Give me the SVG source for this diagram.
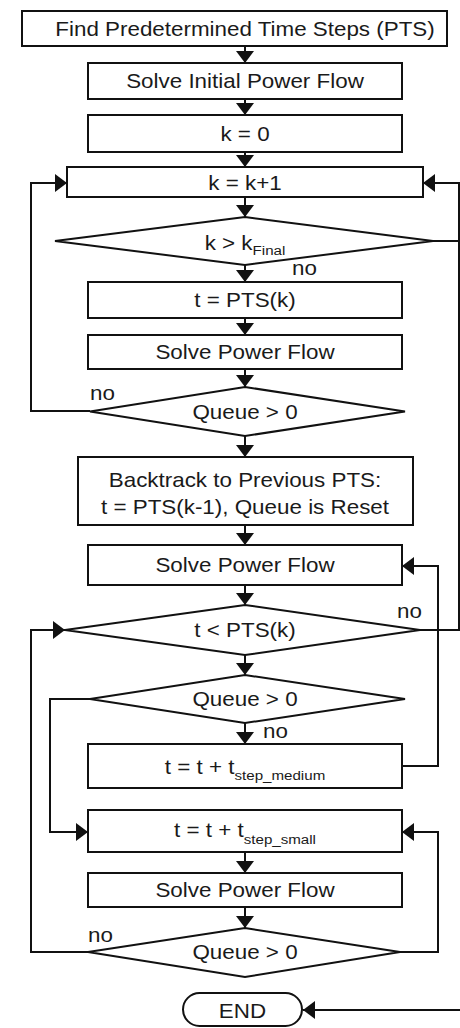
<svg xmlns="http://www.w3.org/2000/svg" width="460" height="1028" viewBox="0 0 460 1028">
  <style>
    .box { fill: #ffffff; stroke: #111111; stroke-width: 2; }
    .wire { fill: none; stroke: #111111; stroke-width: 2; }
    .lbl { font-family: "Liberation Sans", Arial, sans-serif; font-size: 20px; fill: #1a1a1a; text-anchor: middle; }
    .note { font-family: "Liberation Sans", Arial, sans-serif; font-size: 20px; fill: #1a1a1a; text-anchor: start; }
    .sub { font-size: 13.5px; }
  </style>
  <defs>
    <marker id="arrow" markerUnits="userSpaceOnUse" markerWidth="12" markerHeight="18" refX="12" refY="9" orient="auto">
      <path d="M0,0 L12,9 L0,18 Z" fill="#111111"/>
    </marker>
  </defs>
  <rect width="460" height="1028" fill="#ffffff"/>

  <!-- connectors -->
  <g id="connectors" class="wire">
    <line x1="245" y1="46" x2="245" y2="63" marker-end="url(#arrow)"/>
    <line x1="245" y1="99" x2="245" y2="115" marker-end="url(#arrow)"/>
    <line x1="245" y1="152" x2="245" y2="167" marker-end="url(#arrow)"/>
    <line x1="245" y1="197" x2="245" y2="217" marker-end="url(#arrow)"/>
    <line x1="245" y1="265" x2="245" y2="282" marker-end="url(#arrow)"/>
    <line x1="245" y1="318" x2="245" y2="335" marker-end="url(#arrow)"/>
    <line x1="245" y1="369" x2="245" y2="387" marker-end="url(#arrow)"/>
    <line x1="245" y1="436" x2="245" y2="457" marker-end="url(#arrow)"/>
    <line x1="245" y1="525" x2="245" y2="545" marker-end="url(#arrow)"/>
    <line x1="245" y1="585" x2="245" y2="605" marker-end="url(#arrow)"/>
    <line x1="245" y1="655" x2="245" y2="675" marker-end="url(#arrow)"/>
    <line x1="245" y1="723" x2="245" y2="744" marker-end="url(#arrow)"/>
    <line x1="245" y1="852" x2="245" y2="873" marker-end="url(#arrow)"/>
    <line x1="245" y1="907" x2="245" y2="928" marker-end="url(#arrow)"/>
    <!-- k > kFinal / t < PTS(k) back to k = k+1 -->
    <polyline points="420,630 459,630 459,183 423,183" marker-end="url(#arrow)"/>
    <line x1="433" y1="241" x2="459" y2="241"/>
    <!-- Queue > 0 (no) back to k = k+1 -->
    <polyline points="90,411 31,411 31,183 67,183" marker-end="url(#arrow)"/>
    <!-- medium step back to Solve Power Flow -->
    <polyline points="402,766 438,766 438,566 402,566" marker-end="url(#arrow)"/>
    <!-- Queue > 0 to small step -->
    <polyline points="90,699 50,699 50,832 88,832" marker-end="url(#arrow)"/>
    <!-- last Queue > 0 (yes) back to small step -->
    <polyline points="400,952 438,952 438,832 402,832" marker-end="url(#arrow)"/>
    <!-- last Queue > 0 (no) back to t < PTS(k) -->
    <polyline points="88,952 31,952 31,630 65,630" marker-end="url(#arrow)"/>
    <!-- exit into END -->
    <line x1="462" y1="1010" x2="303" y2="1010" marker-end="url(#arrow)"/>
  </g>

  <g id="find-pts">
    <rect class="box" x="22" y="11" width="425" height="35"/>
    <text class="lbl" transform="translate(245 35.5) scale(1.12 1)">Find Predetermined Time Steps (PTS)</text>
  </g>
  <g id="solve-initial">
    <rect class="box" x="88" y="63" width="314" height="36"/>
    <text class="lbl" transform="translate(245 88) scale(1.12 1)">Solve Initial Power Flow</text>
  </g>
  <g id="k-zero">
    <rect class="box" x="88" y="115" width="314" height="37"/>
    <text class="lbl" transform="translate(245 141) scale(1.12 1)">k = 0</text>
  </g>
  <g id="k-inc">
    <rect class="box" x="67" y="167" width="356" height="30"/>
    <text class="lbl" transform="translate(245 190) scale(1.12 1)">k = k+1</text>
  </g>
  <g id="k-check">
    <polygon class="box" points="245,217 433,241 245,265 55,241"/>
    <text class="lbl" transform="translate(245 250) scale(1.12 1)">k &gt; k<tspan class="sub" dy="5">Final</tspan></text>
    <text class="note" transform="translate(292 275) scale(1.12 1)">no</text>
  </g>
  <g id="t-pts">
    <rect class="box" x="88" y="282" width="314" height="36"/>
    <text class="lbl" transform="translate(245 307) scale(1.12 1)">t = PTS(k)</text>
  </g>
  <g id="solve-1">
    <rect class="box" x="88" y="335" width="314" height="34"/>
    <text class="lbl" transform="translate(245 359) scale(1.12 1)">Solve Power Flow</text>
  </g>
  <g id="queue-1">
    <polygon class="box" points="245,387 405,411.5 245,436 90,411.5"/>
    <text class="lbl" transform="translate(245 419) scale(1.12 1)">Queue &gt; 0</text>
    <text class="note" transform="translate(90 400) scale(1.12 1)">no</text>
  </g>
  <g id="backtrack">
    <rect class="box" x="78" y="457" width="335" height="68"/>
    <text class="lbl" transform="translate(245 487) scale(1.12 1)">Backtrack to Previous PTS:</text>
    <text class="lbl" transform="translate(245 514) scale(1.12 1)">t = PTS(k-1), Queue is Reset</text>
  </g>
  <g id="solve-2">
    <rect class="box" x="88" y="545" width="314" height="40"/>
    <text class="lbl" transform="translate(245 572) scale(1.12 1)">Solve Power Flow</text>
  </g>
  <g id="t-check">
    <polygon class="box" points="245,605 420,630 245,655 65,630"/>
    <text class="lbl" transform="translate(245 637) scale(1.12 1)">t &lt; PTS(k)</text>
    <text class="note" transform="translate(397 618) scale(1.12 1)">no</text>
  </g>
  <g id="queue-2">
    <polygon class="box" points="245,675 405,699 245,723 90,699"/>
    <text class="lbl" transform="translate(245 706) scale(1.12 1)">Queue &gt; 0</text>
    <text class="note" transform="translate(263 738) scale(1.12 1)">no</text>
  </g>
  <g id="step-medium">
    <rect class="box" x="88" y="744" width="314" height="44"/>
    <text class="lbl" transform="translate(245 774) scale(1.12 1)">t = t + t<tspan class="sub" dy="6">step_medium</tspan></text>
  </g>
  <g id="step-small">
    <rect class="box" x="88" y="810" width="314" height="42"/>
    <text class="lbl" transform="translate(245 837) scale(1.12 1)">t = t + t<tspan class="sub" dy="7">step_small</tspan></text>
  </g>
  <g id="solve-3">
    <rect class="box" x="88" y="873" width="314" height="34"/>
    <text class="lbl" transform="translate(245 897) scale(1.12 1)">Solve Power Flow</text>
  </g>
  <g id="queue-3">
    <polygon class="box" points="245,928 400,952 245,977 88,952"/>
    <text class="lbl" transform="translate(245 959) scale(1.12 1)">Queue &gt; 0</text>
    <text class="note" transform="translate(88 942) scale(1.12 1)">no</text>
  </g>
  <g id="end">
    <rect class="box" x="183" y="993" width="119" height="33" rx="16.5" ry="16.5"/>
    <text class="lbl" transform="translate(242.5 1018) scale(1.12 1)">END</text>
  </g>
</svg>
